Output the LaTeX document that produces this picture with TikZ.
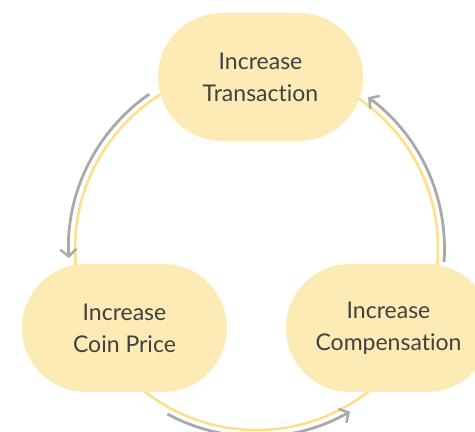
\documentclass[tikz,border=0pt]{standalone}
\usepackage{fontspec}
\setmainfont{Lato}[Ligatures={NoCommon}]
\usetikzlibrary{arrows.meta}
\definecolor{nodefill}{HTML}{FDEBB6}
\definecolor{ring}{HTML}{FFDF85}
\definecolor{arrgray}{HTML}{A9A9A9}
\definecolor{txt}{HTML}{404040}
\begin{document}
\begin{tikzpicture}[x=1pt,y=1pt,
  stage/.style={rectangle, rounded corners=64pt, fill=nodefill, draw=none,
    minimum width=205pt, minimum height=128pt, align=center, text=txt,
    font=\fontsize{23}{32}\selectfont, inner sep=0pt},
  ringline/.style={draw=ring, line width=2.5pt},
  flow/.style={draw=arrgray, line width=2.8pt, -{Straight Barb[length=7pt,width=16pt,line width=2.5pt]}}
]
\useasboundingbox (0,0) rectangle (475,432);
\clip (0,0) rectangle (475,432);
\coordinate (c) at (256.5,183.5);
\draw[ringline] (c) circle[radius=181.5];
\node[stage] (trans) at (260.5,355) {Increase\\Transaction};
\node[stage] (coin) at (124.5,104) {Increase\\Coin Price};
\node[stage] (comp) at (388.5,104) {Increase\\Compensation};
\coordinate (a1s) at ([shift={(124.8:188)}]c);
\coordinate (a2s) at ([shift={(241.7:188)}]c);
\coordinate (a3s) at ([shift={(-4.1:188)}]c);
\draw[flow] (a1s) arc[start angle=124.8, end angle=182.9, radius=188];
\draw[flow] (a2s) arc[start angle=241.7, end angle=299.8, radius=188];
\draw[flow] (a3s) arc[start angle=-4.1, end angle=53.6, radius=188];
\end{tikzpicture}
\end{document}
